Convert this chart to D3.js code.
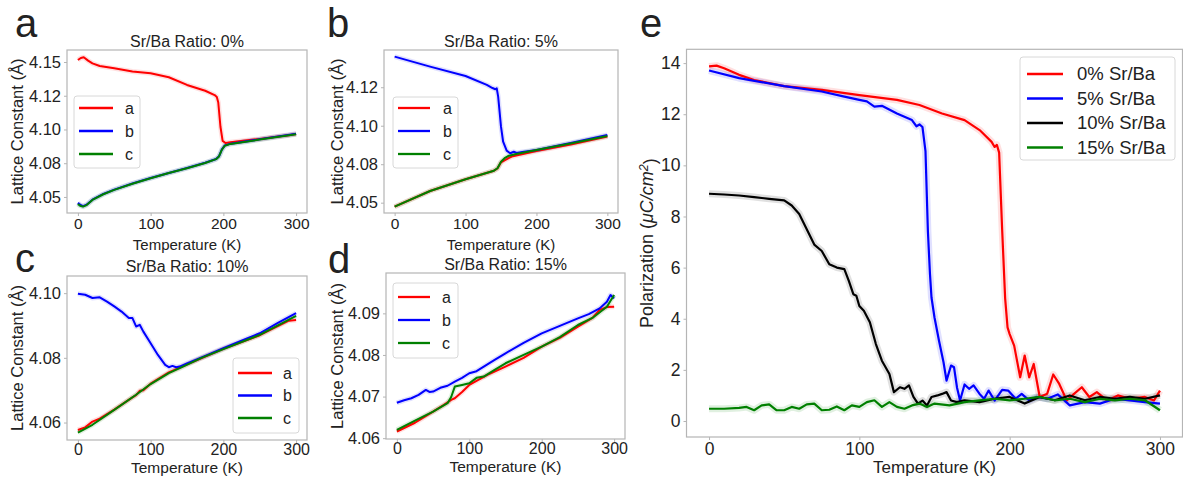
<!DOCTYPE html>
<html><head><meta charset="utf-8">
<script src="https://cdn.jsdelivr.net/npm/d3@7"></script>
<style>
body{margin:0;background:#fff;}
text{font-family:"Liberation Sans",Arial,Helvetica,sans-serif;fill:#222;}
</style>
</head><body>
<svg id="fig" width="1183" height="479"></svg>
<script>
// ---------------- DATA ----------------
const latticeNames = ["a", "b", "c"];
const latticeColors = ["#ff0000", "#0000ff", "#008000"];
const xTicks = [0, 100, 200, 300];

// Panel a: Sr/Ba 0%
const a0_a = [[0,4.1515],[4,4.1530],[8,4.1535],[14,4.1510],[20,4.1490],[30,4.1470],[50,4.1453],[75,4.1430],[100,4.1416],[125,4.1387],[150,4.1330],[175,4.1287],[188,4.1255],[191,4.1240],[193,4.1200],[196,4.1020],[199,4.0915],[203,4.0900],[210,4.0905],[230,4.0918],[250,4.0930],[270,4.0945],[290,4.0958],[300,4.0967]];
const a0_b = [[0,4.0456],[3,4.0442],[7,4.0432],[12,4.0443],[20,4.0480],[35,4.0522],[50,4.0554],[75,4.0600],[100,4.0640],[125,4.0678],[150,4.0714],[175,4.0753],[190,4.0781],[194,4.0801],[198,4.0852],[202,4.0882],[210,4.0895],[250,4.0927],[300,4.0968]];
const a0_c = [[0,4.0448],[3,4.0435],[7,4.0428],[12,4.0440],[20,4.0478],[35,4.0520],[50,4.0552],[75,4.0598],[100,4.0639],[125,4.0677],[150,4.0713],[175,4.0752],[190,4.0780],[194,4.0800],[198,4.0850],[202,4.0880],[210,4.0893],[250,4.0925],[300,4.0964]];
const aYTicks = [4.05, 4.075, 4.1, 4.125, 4.15];
const aYLabels = ["4.05", "4.08", "4.10", "4.12", "4.15"];

// Panel b: Sr/Ba 5%
const b5_a = [[0,4.0474],[50,4.0576],[100,4.0652],[140,4.0708],[145,4.0722],[150,4.0762],[155,4.0775],[165,4.0800],[200,4.0835],[250,4.0880],[300,4.0930]];
const b5_b = [[0,4.1449],[50,4.1384],[100,4.1323],[130,4.1265],[138,4.1245],[142,4.1237],[144,4.1243],[146,4.1189],[150,4.0994],[153,4.0896],[158,4.0838],[163,4.0821],[168,4.0831],[172,4.0823],[180,4.0829],[200,4.0842],[250,4.0890],[300,4.0940]];
const b5_c = [[0,4.0474],[50,4.0576],[100,4.0652],[140,4.0708],[145,4.0724],[150,4.0766],[155,4.0789],[160,4.0803],[170,4.0815],[200,4.0842],[250,4.0886],[300,4.0933]];
const bYTicks = [4.05, 4.075, 4.1, 4.125];
const bYLabels = ["4.05", "4.08", "4.10", "4.12"];

// Panel c: Sr/Ba 10%
const c10_a = [[0,4.0577],[10,4.0585],[20,4.0603],[30,4.0612],[50,4.0640],[75,4.0678],[80,4.0685],[85,4.0698],[90,4.0700],[100,4.0720],[125,4.0755],[150,4.0780],[200,4.0828],[250,4.0870],[290,4.0915],[300,4.0917]];
const c10_b = [[0,4.0998],[10,4.0995],[20,4.0985],[30,4.0987],[40,4.0974],[50,4.0959],[60,4.0943],[70,4.0923],[75,4.0923],[80,4.0897],[85,4.0902],[90,4.0881],[100,4.0845],[110,4.0809],[120,4.0778],[125,4.0771],[130,4.0775],[135,4.0771],[140,4.0773],[150,4.0783],[175,4.0806],[200,4.0830],[225,4.0853],[250,4.0876],[275,4.0908],[300,4.0938]];
const c10_c = [[0,4.0569],[20,4.0593],[50,4.0639],[80,4.0686],[100,4.0719],[125,4.0753],[140,4.0768],[170,4.0800],[200,4.0827],[250,4.0871],[300,4.0930]];
const cYTicks = [4.06, 4.08, 4.10];
const cYLabels = ["4.06", "4.08", "4.10"];

// Panel d: Sr/Ba 15%
const d15_a = [[0,4.0616],[25,4.0637],[50,4.0664],[65,4.0680],[75,4.0692],[80,4.0696],[90,4.0711],[100,4.0728],[125,4.0752],[150,4.0772],[175,4.0793],[200,4.0820],[225,4.0841],[250,4.0868],[270,4.0889],[280,4.0908],[290,4.0915],[300,4.0916]];
const d15_b = [[0,4.0685],[10,4.0691],[20,4.0696],[30,4.0704],[40,4.0716],[45,4.0711],[50,4.0712],[60,4.0721],[70,4.0726],[80,4.0736],[90,4.0745],[100,4.0756],[110,4.0761],[120,4.0772],[135,4.0788],[150,4.0804],[175,4.0829],[200,4.0852],[225,4.0870],[250,4.0888],[265,4.0898],[280,4.0912],[290,4.0928],[295,4.0944],[300,4.0936]];
const d15_c = [[0,4.0620],[25,4.0642],[50,4.0664],[70,4.0684],[75,4.0699],[80,4.0724],[90,4.0728],[100,4.0732],[110,4.0745],[120,4.0748],[135,4.0764],[150,4.0780],[175,4.0800],[200,4.0820],[225,4.0843],[250,4.0872],[270,4.0889],[290,4.0916],[300,4.0944]];
const dYTicks = [4.06, 4.07, 4.08, 4.09];
const dYLabels = ["4.06", "4.07", "4.08", "4.09"];

// Panel e: polarization
const polNames = ["0% Sr/Ba", "5% Sr/Ba", "10% Sr/Ba", "15% Sr/Ba"];
const polColors = ["#ff0000", "#0000ff", "#000000", "#008000"];
const pol0 = [[0,13.87],[5,13.9],[10,13.8],[20,13.54],[30,13.34],[50,13.1],[75,12.95],[100,12.75],[125,12.56],[140,12.36],[155,12.03],[170,11.77],[180,11.38],[188,10.92],[190,10.72],[191.5,10.8],[193,10.5],[195,7.5],[197,4.8],[198.6,3.66],[200,3.4],[203,2.95],[207,1.71],[210,2.56],[213,1.71],[216,2.23],[220,0.94],[225,1.07],[229,1.82],[233,1.45],[238,0.8],[243,1.07],[248,1.32],[253,0.94],[258,1.13],[265,0.8],[272,1.0],[280,0.87],[290,0.94],[296,0.8],[300,1.19]];
const pol5 = [[0,13.71],[20,13.41],[50,13.1],[75,12.89],[90,12.69],[100,12.56],[105,12.5],[110,12.3],[115,12.33],[125,12.03],[135,11.77],[138,11.53],[140,11.6],[142,11.5],[144,10.56],[145.6,7.43],[147,5.74],[148,4.83],[150,4.05],[153,3.14],[156,2.3],[158,1.58],[161,2.17],[163,2.1],[165,1.3],[167,0.8],[170,1.43],[173,1.26],[176,1.39],[180,1.06],[183,0.87],[186,1.19],[190,0.8],[195,1.22],[199,1.19],[204,0.87],[208,1.06],[213,0.81],[218,0.94],[225,0.87],[232,1.04],[240,0.61],[250,0.74],[260,0.68],[270,0.87],[280,0.81],[290,0.74],[300,0.68]];
const pol10 = [[0,8.89],[10,8.86],[20,8.82],[30,8.76],[40,8.69],[50,8.63],[55,8.43],[60,8.1],[65,7.5],[70,6.9],[75,6.65],[80,6.13],[85,6.0],[90,5.94],[93,5.48],[96,4.96],[98,4.9],[100,4.5],[103,4.31],[107,3.86],[111,3.01],[115,2.36],[120,1.84],[123,1.13],[127,1.32],[130,1.26],[133,1.39],[136,0.94],[139,0.68],[142,0.8],[145,0.61],[148,0.94],[152,1.0],[155,1.06],[158,1.13],[161,0.8],[165,0.74],[170,0.81],[180,0.74],[190,0.87],[200,0.94],[210,0.68],[220,0.94],[230,0.81],[240,1.0],[250,0.81],[260,0.94],[270,0.87],[280,0.94],[290,0.87],[300,1.0]];
const pol15 = [[0,0.48],[10,0.48],[20,0.51],[25,0.55],[30,0.42],[35,0.61],[40,0.65],[45,0.42],[50,0.42],[55,0.55],[60,0.48],[65,0.65],[70,0.68],[75,0.42],[80,0.44],[85,0.57],[90,0.42],[95,0.61],[100,0.55],[105,0.74],[110,0.81],[115,0.55],[120,0.74],[125,0.55],[130,0.48],[135,0.61],[140,0.68],[145,0.55],[150,0.68],[160,0.61],[170,0.74],[180,0.81],[190,0.87],[200,0.81],[210,0.87],[220,0.94],[230,0.81],[240,0.87],[250,0.74],[260,0.87],[270,0.81],[280,0.87],[290,0.81],[300,0.42]];
const eYTicks = [0, 2, 4, 6, 8, 10, 12, 14];

// ---------------- DRAWING ----------------
const svg = d3.select("#fig");
const spine = "#b5b5b5";

function panel(p) {
  const g = svg.append("g");
  const x = d3.scaleLinear().domain([-15, 315]).range([p.box[0], p.box[2]]);
  const y = d3.scaleLinear().domain(p.ydom).range([p.box[3], p.box[1]]);
  const line = d3.line().x(d => x(d[0])).y(d => y(d[1]));
  const clipId = "clip" + p.letter;
  svg.append("clipPath").attr("id", clipId).append("rect")
    .attr("x", p.box[0]).attr("y", p.box[1]).attr("width", p.box[2]-p.box[0]).attr("height", p.box[3]-p.box[1]);
  const lg = g.append("g").attr("clip-path", `url(#${clipId})`);
  p.series.forEach(s => {
    lg.append("path").datum(s.data).attr("d", line).attr("fill", "none")
      .attr("stroke", s.color).attr("stroke-width", p.band).attr("stroke-opacity", 0.12).attr("stroke-linejoin", "round");
  });
  p.series.forEach(s => {
    lg.append("path").datum(s.data).attr("d", line).attr("fill", "none")
      .attr("stroke", s.color).attr("stroke-width", p.lw).attr("stroke-linejoin", "round");
  });
  g.append("rect").attr("x", p.box[0]).attr("y", p.box[1])
    .attr("width", p.box[2]-p.box[0]).attr("height", p.box[3]-p.box[1])
    .attr("fill", "none").attr("stroke", spine).attr("stroke-width", 1.2);
  const xa = g.append("g").attr("transform", `translate(0,${p.box[3]})`)
    .call(d3.axisBottom(x).tickValues(xTicks).tickSize(3).tickPadding(p.xpad).tickFormat(d3.format("d")));
  const ya = g.append("g").attr("transform", `translate(${p.box[0]},0)`)
    .call(d3.axisLeft(y).tickValues(p.yticks).tickSize(3).tickPadding(3)
      .tickFormat((d, i) => p.ylabels[i]));
  [xa, ya].forEach((a, k) => {
    a.select(".domain").remove();
    a.selectAll(".tick line").attr("stroke", spine);
    a.selectAll(".tick text").style("font-size", (k === 0 ? p.xtickFs : p.tickFs) + "px").style("fill", "#222")
      .style("font-family", '"Liberation Sans",Arial,sans-serif');
  });
  const cx = (p.box[0] + p.box[2]) / 2, cy = (p.box[1] + p.box[3]) / 2;
  g.append("text").attr("x", cx).attr("y", p.xlabY).attr("text-anchor", "middle")
    .style("font-size", p.labFs + "px").text("Temperature (K)");
  const yl = g.append("text").attr("transform", `translate(${p.ylabX},${cy}) rotate(-90)`)
    .attr("text-anchor", "middle").attr("dy", "0.35em").style("font-size", p.ylabFs + "px");
  if (p.ylabel === "pol") {
    yl.append("tspan").text("Polarization (");
    yl.append("tspan").style("font-style", "italic").text("μC/cm");
    yl.append("tspan").style("font-style", "italic").attr("dy", "-0.45em").style("font-size", (p.ylabFs*0.7) + "px").text("2");
    yl.append("tspan").attr("dy", "0.45em").text(")");
  } else {
    yl.text("Lattice Constant (Å)");
  }
  if (p.title) {
    g.append("text").attr("x", cx).attr("y", p.titleY).attr("text-anchor", "middle")
      .style("font-size", p.titleFs + "px").text(p.title);
  }
  svg.append("text").attr("x", p.letterX).attr("y", p.letterY).style("font-size", "40px").text(p.letter);
  const L = p.legend;
  const leg = g.append("g");
  leg.append("rect").attr("x", L.x).attr("y", L.y).attr("width", L.w).attr("height", L.h)
    .attr("rx", 3).attr("fill", "#fff").attr("fill-opacity", 0.85).attr("stroke", "#d8d8d8");
  p.series.forEach((s, i) => {
    const ry = L.y + L.first + i * L.step;
    leg.append("line").attr("x1", L.x + L.l1).attr("x2", L.x + L.l2).attr("y1", ry).attr("y2", ry)
      .attr("stroke", s.color).attr("stroke-width", p.lw + 0.3);
    leg.append("text").attr("x", L.x + L.tx).attr("y", ry).attr("dy", "0.35em")
      .style("font-size", L.fs + "px").text(s.name);
  });
}

function mk(names, colors, arrs) { return arrs.map((d, i) => ({name: names[i], color: colors[i], data: d})); }

panel({letter:"a", letterX:15, letterY:37, box:[67,50,307,213], ydom:[4.0381,4.1589],
  yticks:aYTicks, ylabels:aYLabels, title:"Sr/Ba Ratio: 0%", titleY:47, titleFs:16,
  series:mk(latticeNames, latticeColors, [a0_a, a0_b, a0_c]), lw:2, band:5,
  tickFs:16.5, xtickFs:15.5, labFs:15, ylabFs:16.5, xpad:2, xlabY:250, ylabX:17,
  legend:{x:74,y:96,w:66,h:72,first:12,step:23,l1:5,l2:39,tx:51,fs:16}});

panel({letter:"b", letterX:327, letterY:37, box:[384,50,618,213], ydom:[4.0433,4.1492],
  yticks:bYTicks, ylabels:bYLabels, title:"Sr/Ba Ratio: 5%", titleY:47, titleFs:16,
  series:mk(latticeNames, latticeColors, [b5_a, b5_b, b5_c]), lw:2, band:5,
  tickFs:16.5, xtickFs:15.5, labFs:15, ylabFs:16.5, xpad:2, xlabY:250, ylabX:337,
  legend:{x:393,y:97,w:65,h:71,first:11,step:23,l1:5,l2:37,tx:50,fs:16}});

panel({letter:"c", letterX:15, letterY:272, box:[67,276,307,440], ydom:[4.0546,4.1053],
  yticks:cYTicks, ylabels:cYLabels, title:"Sr/Ba Ratio: 10%", titleY:272, titleFs:16,
  series:mk(latticeNames, latticeColors, [c10_a, c10_b, c10_c]), lw:2, band:5,
  tickFs:16.5, xtickFs:16, labFs:15.5, ylabFs:16.5, xpad:1, xlabY:473, ylabX:17,
  legend:{x:233,y:358,w:66,h:75,first:15,step:22.5,l1:5,l2:39,tx:50,fs:16}});

panel({letter:"d", letterX:328, letterY:273, box:[386,273,625,439], ydom:[4.0598,4.0997],
  yticks:dYTicks, ylabels:dYLabels, title:"Sr/Ba Ratio: 15%", titleY:270, titleFs:16,
  series:mk(latticeNames, latticeColors, [d15_a, d15_b, d15_c]), lw:2, band:5,
  tickFs:16.5, xtickFs:16, labFs:15.5, ylabFs:16.5, xpad:1, xlabY:472, ylabX:337,
  legend:{x:393,y:283,w:65,h:75,first:14,step:23,l1:5,l2:37,tx:49,fs:16}});

panel({letter:"e", letterX:640, letterY:37, box:[686.5,49.3,1182.5,437], ydom:[-0.626,14.54],
  yticks:eYTicks, ylabels:eYTicks.map(String), title:null,
  series:mk(polNames, polColors, [pol0, pol5, pol10, pol15]), lw:2.2, band:7,
  tickFs:17.5, xtickFs:17.5, labFs:17, ylabFs:18, xpad:3, xlabY:473, ylabX:647, ylabel:"pol",
  legend:{x:1020,y:57,w:155,h:103,first:17,step:24.5,l1:7,l2:43,tx:57,fs:18.5}});
</script>
</body></html>
